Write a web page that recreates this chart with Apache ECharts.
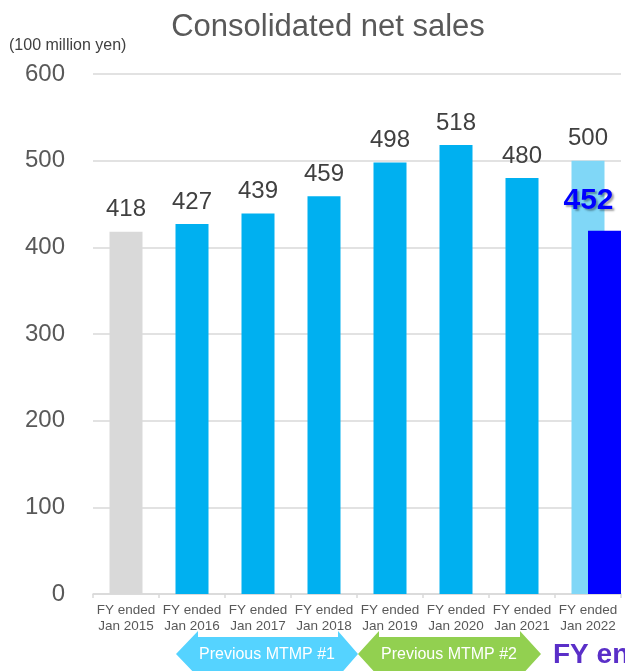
<!DOCTYPE html>
<html><head><meta charset="utf-8">
<script src="https://cdn.jsdelivr.net/npm/echarts@6/dist/echarts.min.js"></script>
<style>html,body{margin:0;padding:0;background:#fff}#c{width:625px;height:671px}</style>
</head><body><div id="c"></div>
<script>
const categories = ['FY ended\nJan 2015','FY ended\nJan 2016','FY ended\nJan 2017','FY ended\nJan 2018','FY ended\nJan 2019','FY ended\nJan 2020','FY ended\nJan 2021','FY ended\nJan 2022'];
const netSales = [418, 427, 439, 459, 498, 518, 480, 500];
const actualJan2022 = [null, null, null, null, null, null, null, 419];
const actualLabel = '452';
const yTicks = [0, 100, 200, 300, 400, 500, 600];
const periodLabels = ['Previous MTMP #1', 'Previous MTMP #2'];
const titleText = 'Consolidated net sales';
const unitText = '(100 million yen)';
const cutText = 'FY en';

const barColors = ['#d9d9d9','#00b0f0','#00b0f0','#00b0f0','#00b0f0','#00b0f0','#00b0f0','#80d7f7'];
const FONT = '"Liberation Sans", Arial, sans-serif';

const chart = echarts.init(document.getElementById('c'));
chart.setOption({
  animation: false,
  textStyle: { fontFamily: FONT },
  grid: { left: 93, right: 4, top: 74, bottom: 77 },
  xAxis: [{
    type: 'category', data: categories, gridIndex: 0,
    axisLine: { lineStyle: { color: '#d9d9d9', width: 1.5 } },
    axisTick: { show: true, length: 4, lineStyle: { color: '#d9d9d9', width: 1.5 } },
    axisLabel: { interval: 0, fontSize: 13.5, lineHeight: 16, color: '#595959', margin: 8, fontFamily: FONT }
  }, {
    type: 'category', data: categories, gridIndex: 0, show: false
  }],
  yAxis: {
    type: 'value', min: yTicks[0], max: yTicks[yTicks.length - 1], interval: 100,
    axisLine: { show: false }, axisTick: { show: false },
    axisLabel: { fontSize: 24, color: '#595959', margin: 28, fontFamily: FONT,
      formatter: v => yTicks.includes(v) ? String(v) : '' },
    splitLine: { lineStyle: { color: '#d9d9d9', width: 1.5 } }
  },
  series: [{
    type: 'bar', name: 'Net sales', xAxisIndex: 0, barWidth: 33,
    data: netSales.map((v, i) => ({ value: v, itemStyle: { color: barColors[i] } })),
    label: { show: true, position: 'top', distance: 10, fontSize: 24, color: '#404040', fontFamily: FONT }
  }, {
    type: 'bar', name: 'spacer', xAxisIndex: 1, barWidth: 38, barGap: '0%', silent: true,
    data: categories.map(() => null)
  }, {
    type: 'bar', name: 'Actual', xAxisIndex: 1, barWidth: 38, barGap: '0%',
    data: actualJan2022, itemStyle: { color: '#0000ff' },
    label: { show: true, position: 'top', distance: 15, offset: [-16, 0],
      formatter: () => actualLabel, fontSize: 30, fontWeight: 'bold', color: '#0000ff', fontFamily: FONT,
      textShadowColor: 'rgba(0,0,0,0.35)', textShadowBlur: 2, textShadowOffsetX: 2, textShadowOffsetY: 2 }
  }],
  graphic: [
    { type: 'text', x: 328, y: 27, style: { text: titleText, fill: '#595959', font: '31px ' + FONT, align: 'center', verticalAlign: 'middle' } },
    { type: 'text', x: 9, y: 46, style: { text: unitText, fill: '#404040', font: '16px ' + FONT, align: 'left', verticalAlign: 'middle' } },
    { type: 'polygon', shape: { points: [[176,654],[198,631],[198,637],[338,637],[338,631],[358,654],[338,677],[338,671],[198,671],[198,677]] }, style: { fill: '#55d3ff' } },
    { type: 'polygon', shape: { points: [[358,654],[379,631],[379,637],[520,637],[520,631],[541,654],[520,677],[520,671],[379,671],[379,677]] }, style: { fill: '#92d050' } },
    { type: 'text', x: 267, y: 655, style: { text: periodLabels[0], fill: '#ffffff', font: '16px ' + FONT, align: 'center', verticalAlign: 'middle' } },
    { type: 'text', x: 449, y: 655, style: { text: periodLabels[1], fill: '#ffffff', font: '16px ' + FONT, align: 'center', verticalAlign: 'middle' } },
    { type: 'text', x: 553, y: 655, style: { text: cutText, fill: '#5a2fc8', font: 'bold 28px ' + FONT, align: 'left', verticalAlign: 'middle' } }
  ]
});
</script></body></html>
